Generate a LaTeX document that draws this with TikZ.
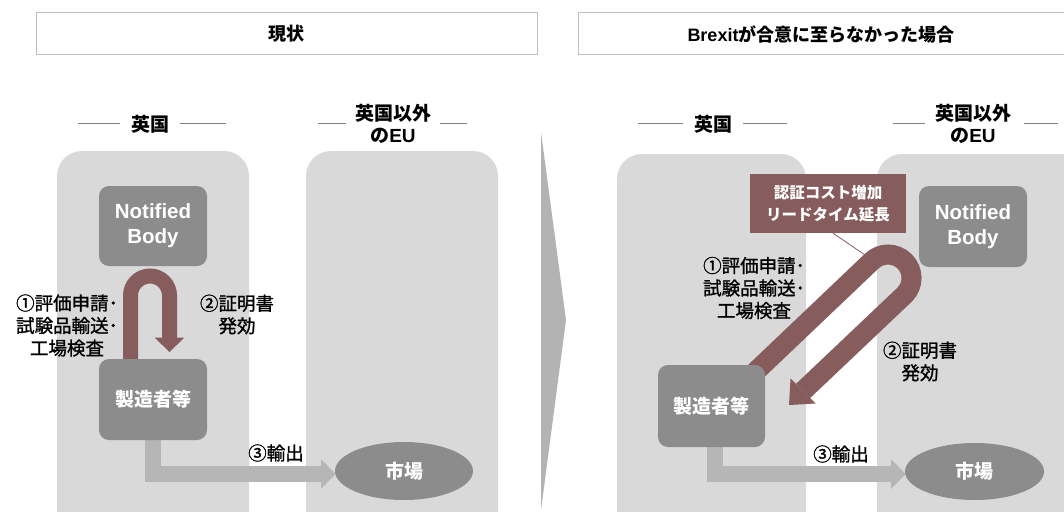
\documentclass[tikz,border=0pt]{standalone}
\usepackage{fontspec}
\setmainfont{Liberation Sans}
\newfontfamily\jp{Noto Sans CJK JP}
\newfontfamily\jpm[FakeBold=1.2]{Noto Sans CJK JP}
\usetikzlibrary{shapes.geometric}
\definecolor{panel}{HTML}{D9D9D9}
\definecolor{boxg}{HTML}{8C8C8C}
\definecolor{brn}{RGB}{134,92,92}
\definecolor{expg}{HTML}{B6B6B6}
\definecolor{chev}{HTML}{B3B3B3}
\definecolor{frame}{HTML}{BFBFBF}
\definecolor{hline}{HTML}{808080}
\begin{document}
\begin{tikzpicture}[x=1pt,y=-1pt,
  panelbox/.style={fill=panel, rounded corners=25pt},
  titlebox/.style={draw=frame, line width=1pt, fill=white},
  titletext/.style={font=\jp\bfseries\fontsize{18}{20}\selectfont, inner sep=0pt},
  hdr/.style={font=\jp\bfseries\fontsize{19}{22}\selectfont, align=center, inner sep=0pt},
  hdrline/.style={draw=hline, line width=0.9pt},
  graybox/.style={fill=boxg, rounded corners=10pt, text=white, align=center, inner sep=0pt},
  nbfont/.style={font=\bfseries\fontsize{20.5}{25}\selectfont},
  jpwhite/.style={font=\jp\bfseries\fontsize{19}{22}\selectfont},
  market/.style={ellipse, fill=boxg, text=white, inner sep=0pt, font=\jp\bfseries\fontsize{19}{22}\selectfont},
  lbl/.style={font=\jpm\fontsize{18.5}{22.5}\selectfont, align=center, inner sep=0pt},
  band/.style={draw=brn, line width=#1},
  expband/.style={draw=expg, line width=16pt, line join=miter},
  callout/.style={fill=brn, text=white, align=center, inner sep=0pt, font=\jp\bfseries\fontsize{15.5}{22}\selectfont}
]
\useasboundingbox (0,0) rectangle (1064,511);
\clip (0,0) rectangle (1064,511);

% ---------- titles ----------
\path[titlebox] (36,13) rectangle (537,55);
\node[titletext] (t1) at (286.5,34) {現状};
\path[titlebox] (578,13) rectangle (1070,55);
\node[titletext] (t2) at (821,34) {{\rmfamily\bfseries Brexit}が合意に至らなかった場合};

% ---------- chevron ----------
\fill[chev] (541,132) -- (566,320) -- (541,510) -- cycle;

% ---------- left: panels ----------
\path[panelbox] (57,151) rectangle (249,545);
\path[panelbox] (306,151) rectangle (498,545);
\node[hdr] (ukL) at (150,124) {英国};
\node[hdr] (euL) at (393,124) {英国以外\\の{\rmfamily\bfseries EU}};
\draw[hdrline] (78,123) -- (120,123);
\draw[hdrline] (180,123) -- (226,123);
\draw[hdrline] (318,123) -- (346,123);
\draw[hdrline] (440,123) -- (467,123);

% left: U arrow
\coordinate (uLa) at (130.5,362);
\coordinate (uLb) at (130.5,295.5);
\coordinate (uLc) at (169.5,338);
\coordinate (uLtip) at (169.5,352);
\draw[band=15pt] (uLa) -- (uLb) arc[start angle=180, end angle=360, radius=19.5] -- (uLc);
\fill[brn] (154.5,337.5) -- (184.5,337.5) -- (uLtip) -- cycle;

% left: export arrow
\coordinate (eLa) at (153,430);
\coordinate (eLb) at (153,474);
\coordinate (eLc) at (321.5,474);
\coordinate (eLtip) at (335.5,474);
\draw[expband] (eLa) -- (eLb) -- (eLc);
\fill[expg] (321,459) -- (eLtip) -- (321,489) -- cycle;

\node[graybox, nbfont, minimum width=108pt, minimum height=80pt] (nbL) at (153,226) {Notified\\Body};
\node[graybox, jpwhite, minimum width=108pt, minimum height=81pt] (mfgL) at (153,399.5) {製造者等};
\node[market, minimum width=138pt, minimum height=58pt] (mkL) at (404,471) {市場};

\node[lbl] (l1L) at (67,325.5) {①評価申請･\\試験品輸送･\\工場検査};
\node[lbl] (l2L) at (237,314.5) {②証明書\\発効};
\node[lbl] (l3L) at (276,453) {③輸出};

% ---------- right: panels ----------
\path[panelbox] (617,154) rectangle (806,545);
\path[panelbox] (877,154) rectangle (1100,545);
\node[hdr] (ukR) at (713,124) {英国};
\node[hdr] (euR) at (973,124) {英国以外\\の{\rmfamily\bfseries EU}};
\draw[hdrline] (638,123) -- (683,123);
\draw[hdrline] (743,123) -- (787,123);
\draw[hdrline] (893,123) -- (925,123);
\draw[hdrline] (1024,123) -- (1058,123);

% right: export arrow
\coordinate (eRa) at (715,435);
\coordinate (eRb) at (715,474);
\coordinate (eRc) at (891.5,474);
\coordinate (eRtip) at (905.5,474);
\draw[expband] (eRa) -- (eRb) -- (eRc);
\fill[expg] (891,459) -- (eRtip) -- (891,489) -- cycle;

% right: diagonal U arrow
\coordinate (uRa) at (752,375);
\coordinate (uRb) at (871.4,261.4);
\coordinate (uRc) at (803,391);
\coordinate (uRtip) at (789,405);
\draw[band=20pt] (uRa) -- (uRb) arc[start angle=225, end angle=405, radius=23.5] -- (uRc);
\fill[brn] (815.5,403.5) -- (uRtip) -- (790.5,378.5) -- cycle;

\node[graybox, nbfont, minimum width=108pt, minimum height=81pt] (nbR) at (973,226.5) {Notified\\Body};
\node[graybox, jpwhite, minimum width=107pt, minimum height=82pt] (mfgR) at (711.5,406) {製造者等};
\node[market, minimum width=139pt, minimum height=57pt] (mkR) at (974.5,471.5) {市場};

% callout
\node[callout, minimum width=156pt, minimum height=59pt] (call) at (828,203.5) {認証コスト増加\\リードタイム延長};
\coordinate (callEnd) at (868,257);
\draw[brn, line width=0.8pt] ([xshift=5pt]call.south) -- (callEnd);

\node[lbl] (l1R) at (754,288) {①評価申請･\\試験品輸送･\\工場検査};
\node[lbl] (l2R) at (920,361.5) {②証明書\\発効};
\node[lbl] (l3R) at (841,454) {③輸出};
\end{tikzpicture}
\end{document}
